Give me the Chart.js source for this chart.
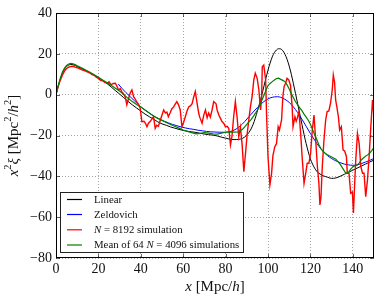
<!DOCTYPE html>
<html><head><meta charset="utf-8">
<script src="https://cdn.jsdelivr.net/npm/chart.js@4/dist/chart.umd.min.js"></script>
<style>html,body{margin:0;padding:0;background:#fff;}#wrap{width:379px;height:301px;}</style>
</head><body><div id="wrap"><canvas id="c" width="379" height="301"></canvas></div>
<script>
const xTicks = [0,20,40,60,80,100,120,140];
const yTicks = [-80,-60,-40,-20,0,20,40];
const seriesNames = ['Linear','Zeldovich','N = 8192 simulation','Mean of 64 N = 4096 simulations'];

const linearX = [0,1,2,3,4,5,6,7,8,9,10,12,14,16,18,20,22,24,26,28,30,32,34,36,38,40,42,44,46,48,50,52,54,56,58,60,62,64,66,68,70,72,74,76,78,80,82,84,86,88,90,91,92,93,94,95,96,97,98,99,100,101,102,103,104,105,106,107,108,109,110,111,112,113,114,115,116,117,118,119,120,121,122,123,124,126,128,130,132,134,136,138,140,142,144,146,148,150];
const linearY = [0,4,7.5,10.5,12.5,13.8,14.5,14.8,14.7,14.3,13.8,12.8,11.8,10.8,9.6,8.3,7,5.5,3.8,2,0.3,-1.5,-3.3,-5,-6.5,-8,-9.5,-10.8,-12,-13.3,-14.3,-15,-15.8,-16.4,-17,-17.5,-17.9,-18.2,-18.5,-18.9,-19.3,-19.6,-19.8,-20.2,-20.8,-21.3,-21.8,-22,-21.9,-21.4,-19.8,-18.5,-16.8,-14.5,-11.5,-8,-4.3,-0.5,3.8,8,12,15.5,18.5,20.6,21.9,22.5,22.4,21.5,19.8,17.3,14,10,5.3,0.5,-4.5,-9.5,-14.5,-19.5,-24,-28,-31.5,-34,-36,-37.5,-38.5,-39.7,-40.4,-41,-40.8,-40,-39,-38,-37,-36,-35,-34,-33,-32];

const zelX = [29.4,31,33,35,37,39,41,43,45,47,49,51,53,55,57,59,61,63,65,67,69,71,73,75,77,79,81,83,85,87,89,91,93,95,97,99,101,103,104.5,106,108,110,112,114,116,118,120,122,124,126,128,130,132,134,136,138,140,142,144,146,148,150];
const zelY = [5.2,3.2,1,-1,-3,-5,-6.8,-8.3,-9.7,-11,-12,-13,-13.8,-14.6,-15.2,-15.8,-16.3,-16.7,-17,-17.4,-17.7,-18,-18.2,-18.3,-18.4,-18.4,-18.3,-17.8,-16.8,-15.3,-13.2,-10.8,-8.5,-6.3,-4.3,-2.7,-1.6,-1.1,-1,-1.3,-2.3,-3.8,-6,-8.8,-12,-15.5,-19,-22.3,-25.3,-27.8,-29.8,-31.3,-32.4,-33.3,-34,-34.4,-34.6,-34.4,-33.8,-33,-32.2,-31.2];

const sim8192X = [0,1,2,3,4,5,6,7,8,9,10,11,12,13,14,15,16,17,18,19,20,21,22,23,24,25,26,27,28,28.8,29.5,30.3,31,31.8,32.6,33.4,34.2,35,35.8,36.6,37.3,38,38.8,39.7,40.5,41.5,42.2,42.9,43.6,44.4,45.2,46,46.8,47.5,48.3,49.2,50,50.8,51.6,52.3,53,53.8,54.6,55.5,56.3,57,57.8,58.6,59.4,60.2,61,61.8,62.6,63.4,64.2,65,65.7,66.3,67.3,67.8,68.9,69.7,70.5,71.3,72,72.8,73.6,74.4,75.5,76,76.8,77.5,78.3,79.1,79.9,80.7,81.5,82.3,83,83.8,84.6,85.4,86.2,87,87.8,88.6,89.4,90.2,91,91.7,92.5,93.3,94,94.9,95.7,96.5,97,97.3,98,98.9,99.3,100,100.9,101.7,102.3,103.2,104,104.8,105.4,106.4,107,107.6,108.3,109,109.8,110.6,111.4,111.8,112.7,113.3,113.8,114.6,115.4,116.2,117,117.8,118.5,119.3,120.1,120.9,121.7,122.5,123.3,124,124.5,125,125.6,126.4,127.2,127.9,128.7,129.5,130.3,130.8,131.4,131.9,132.4,133.2,133.8,134.6,135.4,136.2,137,137.4,138.2,139,139.8,140.3,140.9,141.4,142.2,143,143.8,144.6,145.3,146.1,146.9,147.7,148.5,149.3,150];
const sim8192Y = [0,4,7,9.5,11.5,12.8,13.5,13.8,13.9,13.5,13.2,12.8,12.3,11.9,11.5,11,10.6,9.8,9.5,8.6,8,7,6.8,6,5.6,6.3,4.8,5.5,5.6,4,2.3,3,1.5,0.5,-1,-5,-2,0.8,2.3,-1,-2,-3.4,-4.5,-6.5,-13.2,-13,-14,-15.7,-14,-13.2,-12,-10.8,-16.5,-15,-15.5,-12.5,-10,-7.5,-9,-8.5,-10.8,-9,-7,-6,-4.5,-3.4,-5,-7.5,-15.7,-13.5,-10.8,-8,-6,-5.5,-4.4,-1,1.5,-2.6,-9,-11,-14,-10,-7.5,-11.3,-9,-11,-7.5,-3.4,-4.5,-7.5,-10,-11.5,-13.2,-14,-15.7,-15.5,-16.5,-24.6,-20.5,-10.8,-3.4,-10.8,-20.5,-16,-24.6,-37.7,-28.7,-19,-12,-6,-1,7.2,10.5,8,2.3,-7.5,-1,13.7,14.5,7.2,-9,-30.4,-44.2,-38.4,-30,-25.5,-24,-15.7,-17.3,-12.4,-1,4,5.6,8,7.2,4.7,-6,-15.7,-10.8,-13,-11.5,-8.3,-19,-32,-43.4,-38.4,-33.6,-33.6,-28.7,-17.3,-10,-22.3,-35.3,-43.4,-54,-50,-35.3,-22.2,-12.4,-8.3,-8,-4.2,2.3,9.6,6,-2.6,-5.5,-10.8,-17.3,-15.7,-27,-27.7,-30.4,-38.5,-38.5,-48.3,-47.7,-58,-43,-32,-19,-24,-35.3,-38.5,-38.5,-50,-42,-30.4,-15.7,-2.6,-10.8];

const meanX = [0,1,2,3,4,5,6,7,8,9,10,12,14,16,18,20,22,24,26,28,30,32,34,36,38,40,42,44,46,48,50,52,54,56,58,60,62,64,66,68,70,72,74,76,78,80,82,84,86,88,89,90,91,92,93,94,95,96,97,98,99,100,101,102,103,104,105,106,107,108,109,110,111,112,113,114,115,116,117,118,119,120,121,122,123,124,125,126,127,128,130,132,134,135.5,136.7,138,139,140,141,142,143,144,145,146,147,148,149,150];
const meanY = [0,4.2,8,11,13,14.3,15,15.3,15.1,14.7,14.2,13.2,12.1,11,9.8,8.5,7.2,5.9,4.6,3.2,1.8,0,-1.8,-3.4,-4.8,-6,-7.5,-9,-10.4,-11.6,-12.6,-13.6,-14.6,-15.5,-16.4,-17.3,-18,-18.6,-19.2,-19,-18.6,-18.8,-19.2,-19.3,-18.8,-18.4,-18.2,-18.3,-18.2,-17,-15.8,-14.6,-13.3,-12.2,-10.8,-9.2,-7.5,-5.5,-3,-0.5,2,4.5,5.5,6.4,7.2,7.9,8.1,7.5,7,6.4,4.8,2.8,0.5,-1.5,-3.5,-5,-6.5,-7.8,-9.5,-11,-12.5,-14.5,-17,-19.5,-22,-24.5,-26.5,-27.8,-28.7,-29.4,-30.5,-31.6,-34,-36.5,-38.5,-38,-36.5,-35.4,-34.8,-34.5,-33.5,-32,-31,-30.2,-29.5,-28.6,-27.3,-25.8];

const colors = ['#000000','#0000ff','#ff0000','#008000'];
const SERIF = '"Liberation Serif", "DejaVu Serif", serif';

function pts(xs, ys){ return xs.map((x,i)=>({x:x,y:ys[i]})); }

function richWidth(ctx, segs, size){
  let w=0;
  for(const s of segs){
    const fs = s.sup ? size*0.7 : size;
    ctx.font = (s.i?'italic ':'') + fs + 'px ' + SERIF;
    w += ctx.measureText(s.t).width;
  }
  return w;
}
function drawRich(ctx, segs, x, y, size){
  let cx = x;
  for(const s of segs){
    const fs = s.sup ? size*0.7 : size;
    ctx.font = (s.i?'italic ':'') + fs + 'px ' + SERIF;
    ctx.fillText(s.t, cx, s.sup ? y - size*0.38 : y);
    cx += ctx.measureText(s.t).width;
  }
}

const decor = {
  id:'decor',
  afterDatasetsDraw(chart){
    const {ctx, chartArea:a, scales} = chart;
    ctx.save();
    ctx.strokeStyle = '#000'; ctx.lineWidth = 0.6;
    ctx.beginPath();
    for(const v of xTicks){ const px = Math.round(scales.x.getPixelForValue(v))+0.5;
      ctx.moveTo(px,a.bottom); ctx.lineTo(px,a.bottom-4); ctx.moveTo(px,a.top); ctx.lineTo(px,a.top+4); }
    for(const v of yTicks){ const py = Math.round(scales.y.getPixelForValue(v))+0.5;
      ctx.moveTo(a.left,py); ctx.lineTo(a.left+4,py); ctx.moveTo(a.right,py); ctx.lineTo(a.right-4,py); }
    ctx.stroke();
    ctx.lineWidth = 1; ctx.strokeStyle = '#000';
    ctx.strokeRect(Math.round(a.left)+0.5, Math.round(a.top)+0.5, Math.round(a.right-a.left)-1, Math.round(a.bottom-a.top)-1);
    const lx = a.left+4, ly = 192, lw = 184, lh = 61;
    ctx.fillStyle = '#fff'; ctx.fillRect(lx, ly, lw, lh);
    ctx.strokeStyle = '#222'; ctx.lineWidth = 1;
    ctx.strokeRect(lx+0.5, ly+0.5, lw-1, lh-1);
    const labels = [
      [{t:'Linear'}],
      [{t:'Zeldovich'}],
      [{t:'N',i:true},{t:' = 8192 simulation'}],
      [{t:'Mean of 64 '},{t:'N',i:true},{t:' = 4096 simulations'}]
    ];
    const rowY = [199.5,214.5,229.8,245];
    ctx.textBaseline = 'middle'; ctx.textAlign = 'left';
    labels.forEach((segs,k)=>{
      ctx.strokeStyle = colors[k]; ctx.lineWidth = 1.2;
      ctx.beginPath(); ctx.moveTo(lx+7, rowY[k]); ctx.lineTo(lx+22, rowY[k]); ctx.stroke();
      ctx.fillStyle = '#111';
      drawRich(ctx, segs, lx+34, rowY[k]+0.5, 10.8);
    });
    ctx.fillStyle = '#111';
    ctx.textBaseline = 'middle';
    const xt = [{t:'x',i:true},{t:' [Mpc/'},{t:'h',i:true},{t:']'}];
    const xw = richWidth(ctx, xt, 15);
    drawRich(ctx, xt, (a.left+a.right)/2 - xw/2, 287, 15);
    const yt = [{t:'x',i:true},{t:'2',sup:true},{t:'ξ',i:true},{t:' [Mpc'},{t:'2',sup:true},{t:'/'},{t:'h',i:true},{t:'2',sup:true},{t:']'}];
    const yw = richWidth(ctx, yt, 15);
    ctx.translate(14, (a.top+a.bottom)/2);
    ctx.rotate(-Math.PI/2);
    drawRich(ctx, yt, -yw/2, 0, 15);
    ctx.restore();
  }
};

const gridColor = 'rgba(0,0,0,0.45)';
new Chart(document.getElementById('c'), {
  type:'line',
  data:{ datasets:[
    {label:seriesNames[0], data:pts(linearX,linearY), borderColor:colors[0], borderWidth:1, pointRadius:0, cubicInterpolationMode:'monotone', order:3},
    {label:seriesNames[1], data:pts(zelX,zelY), borderColor:colors[1], borderWidth:1, pointRadius:0, cubicInterpolationMode:'monotone', order:2},
    {label:seriesNames[2], data:pts(sim8192X,sim8192Y), borderColor:colors[2], borderWidth:1.4, pointRadius:0, tension:0, order:1},
    {label:seriesNames[3], data:pts(meanX,meanY), borderColor:colors[3], borderWidth:1.2, pointRadius:0, tension:0, order:0}
  ]},
  options:{
    responsive:false, animation:false, events:[],
    layout:{padding:{left:0,top:13,right:5,bottom:0}},
    plugins:{legend:{display:false}, tooltip:{enabled:false}},
    scales:{
      x:{type:'linear', min:0, max:150,
        afterBuildTicks:s=>{ s.ticks = xTicks.map(v=>({value:v})); },
        afterFit:s=>{ s.height = 43; },
        ticks:{font:{family:SERIF,size:14}, color:'#111', padding:3, maxRotation:0, autoSkip:false},
        grid:{color:gridColor, lineWidth:0.8, drawTicks:false},
        border:{display:false, dash:[1,2]}
      },
      y:{type:'linear', min:-80, max:40,
        afterBuildTicks:s=>{ s.ticks = yTicks.map(v=>({value:v})); },
        afterFit:s=>{ s.width = 56; },
        ticks:{font:{family:SERIF,size:14}, color:'#111', padding:4, callback:v=> v<0 ? '\u2212'+Math.abs(v) : ''+v},
        grid:{color:gridColor, lineWidth:0.8, drawTicks:false},
        border:{display:false, dash:[1,2]}
      }
    }
  },
  plugins:[decor]
});
</script></body></html>
